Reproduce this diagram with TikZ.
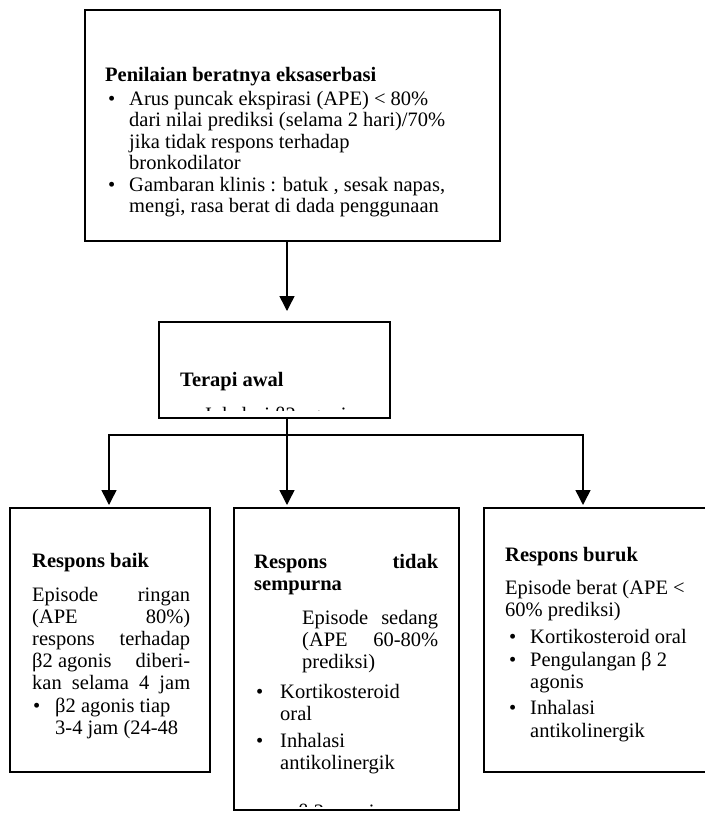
\documentclass[tikz,border=0pt]{standalone}
\usepackage{fontspec}
\setmainfont{Liberation Serif}
\usetikzlibrary{arrows.meta}
\newcommand{\fsz}{\fontsize{20.5}{22.5}\selectfont}
\begin{document}
\begin{tikzpicture}[x=1pt,y=-1pt,
  box/.style={draw, line width=1.7pt, inner sep=0pt, anchor=north west},
  tx/.style={anchor=base west, inner sep=0pt, font=\fsz},
  hd/.style={anchor=base west, inner sep=0pt, font=\fsz\bfseries},
  conn/.style={line width=1.5pt, line cap=rect},
  arr/.style={line width=1.5pt, -{Triangle[length=15pt,width=15pt]}}]
\useasboundingbox (0,0) rectangle (704,819);
\fill[white] (0,0) rectangle (704,819);

% boxes
\node[box, minimum width=415, minimum height=231] (top) at (84,9) {};
\node[box, minimum width=231, minimum height=96] (terapi) at (158,321) {};
\node[box, minimum width=200, minimum height=264] (left) at (9,507) {};
\node[box, minimum width=225, minimum height=302] (mid) at (233,507) {};
\node[box, minimum width=232, minimum height=264] (right) at (483,507) {};

% top box text
\node[hd] (tT) at (105,81) {Penilaian beratnya eksaserbasi};
\node[tx] (tb1) at (108,105) {\textbullet};
\node[tx] (t1) at (129,105) {Arus puncak ekspirasi (APE) < 80\%};
\node[tx] (t2) at (129,126.5) {dari nilai prediksi (selama 2 hari)/70\%};
\node[tx] (t3) at (129,148) {jika tidak respons terhadap};
\node[tx] (t4) at (129,169.5) {bronkodilator};
\node[tx] (tb2) at (108,191) {\textbullet};
\node[tx] (t5) at (129,191) {Gambaran klinis : batuk , sesak napas,};
\node[tx] (t6) at (129,212.5) {mengi, rasa berat di dada penggunaan};

% terapi box text
\node[hd] (rT) at (180,386) {Terapi awal};
\begin{scope}
  \clip (158,321) rectangle (389,410);
  \node[tx] (r1) at (205,421) {Inhalasi β2 agonis};
\end{scope}

% left box text
\node[hd] (lT) at (32,567) {Respons baik};
\node[tx] (l1) at (32,601) {\hbox to 158pt{Episode\hfill ringan}};
\node[tx] (l2) at (32,623) {\hbox to 158pt{(APE\hfill 80\%)}};
\node[tx] (l3) at (32,645) {\hbox to 158pt{respons\hfill terhadap}};
\node[tx] (l4) at (32,667) {\hbox to 158pt{β2 agonis\hfill diberi-}};
\node[tx] (l5) at (32,689) {\hbox to 158pt{kan\hfill selama\hfill 4\hfill jam}};
\node[tx] (lb1) at (33,712) {\textbullet};
\node[tx] (l6) at (55,712) {β2 agonis tiap};
\node[tx] (l7) at (55,734) {3-4 jam (24-48};

% middle box text
\node[hd] (mT1) at (254,568) {\hbox to 184pt{Respons\hfill tidak}};
\node[hd] (mT2) at (254,590) {sempurna};
\node[tx] (m1) at (302,624) {\hbox to 136pt{Episode\hfill sedang}};
\node[tx] (m2) at (302,646) {\hbox to 136pt{(APE\hfill 60-80\%}};
\node[tx] (m3) at (302,668) {prediksi)};
\node[tx] (mb1) at (256,698) {\textbullet};
\node[tx] (m4) at (280,698) {Kortikosteroid};
\node[tx] (m5) at (280,720) {oral};
\node[tx] (mb2) at (256,747) {\textbullet};
\node[tx] (m6) at (280,747) {Inhalasi};
\node[tx] (m7) at (280,769) {antikolinergik};
\begin{scope}
  \clip (233,507) rectangle (458,806);
  \node[tx] (m8) at (298,818) {β 2 agonis};
\end{scope}

% right box text
\node[hd] (bT) at (505,561) {Respons buruk};
\node[tx] (b1) at (505,594) {Episode berat (APE <};
\node[tx] (b2) at (505,616) {60\% prediksi)};
\node[tx] (bb1) at (509,643) {\textbullet};
\node[tx] (b3) at (530,643) {Kortikosteroid oral};
\node[tx] (bb2) at (509,666) {\textbullet};
\node[tx] (b4) at (530,666) {Pengulangan β 2};
\node[tx] (b5) at (530,688) {agonis};
\node[tx] (bb3) at (509,714) {\textbullet};
\node[tx] (b6) at (530,714) {Inhalasi};
\node[tx] (b7) at (530,737) {antikolinergik};

% connectors
\coordinate (a1) at (287,311);
\coordinate (j) at (287,435);
\coordinate (jl) at (109,435);
\coordinate (jr) at (583,435);
\coordinate (tl) at (109,505);
\coordinate (tm) at (287,505);
\coordinate (tr) at (583,505);
\draw[arr] (top.south -| a1) -- (a1);
\draw[conn] (terapi.south -| j) -- (j);
\draw[conn] (jl) -- (jr);
\draw[arr] (jl) -- (tl);
\draw[arr] (j) -- (tm);
\draw[arr] (jr) -- (tr);
\end{tikzpicture}
\end{document}
